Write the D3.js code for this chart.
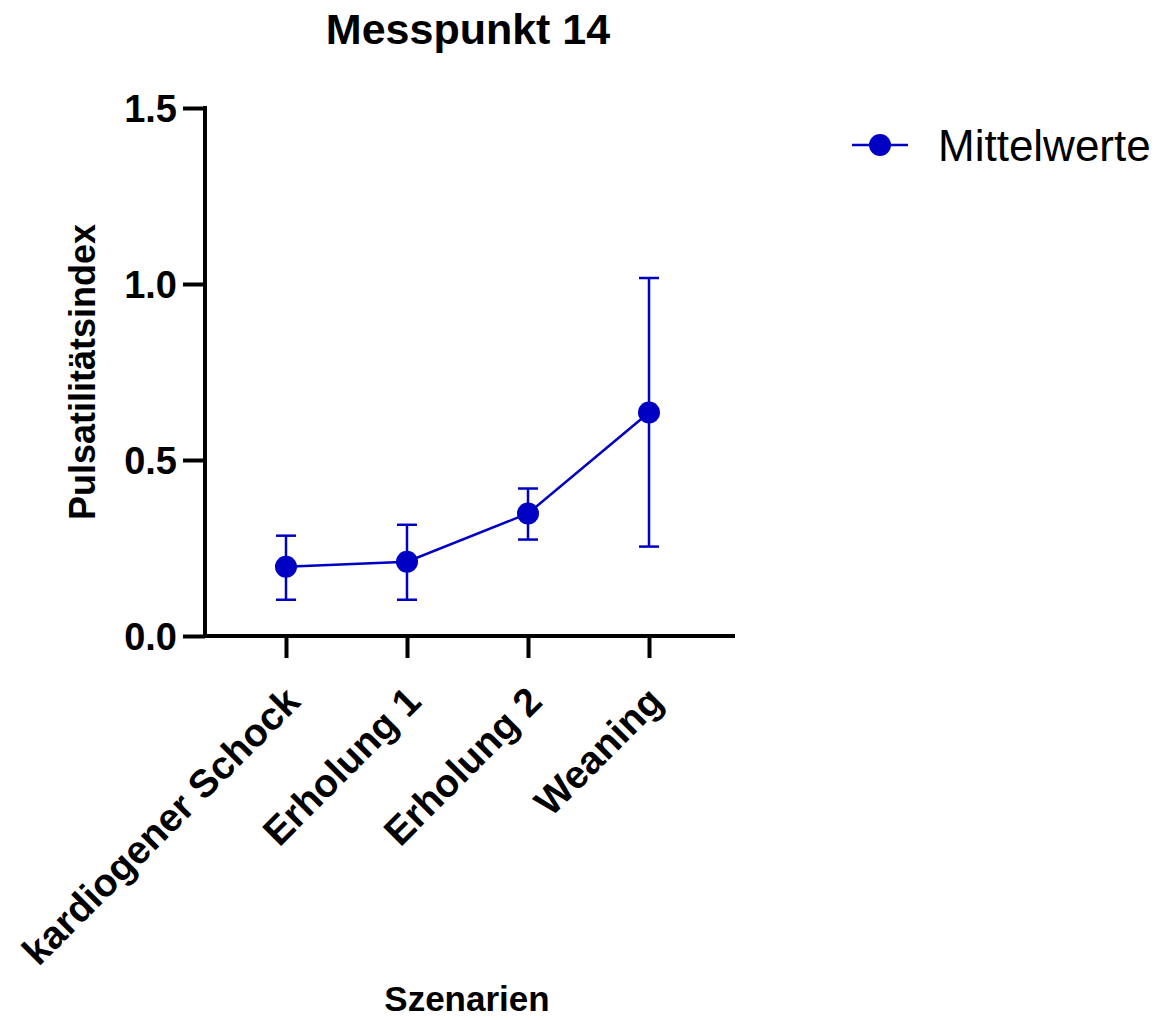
<!DOCTYPE html>
<html>
<head>
<meta charset="utf-8">
<script src="https://cdn.jsdelivr.net/npm/d3@7"></script>
<style>
	body { margin: 0; background: #fff; }
	text { font-family: "Liberation Sans", Arial, sans-serif; }
</style>
</head>
<body>
<svg id="chart" width="1160" height="1020"></svg>
<script>
// data
var categories = ["kardiogener Schock", "Erholung 1", "Erholung 2", "Weaning"];
var means = [0.197, 0.211, 0.348, 0.635];
var errLow = [0.103, 0.103, 0.274, 0.254];
var errHigh = [0.285, 0.316, 0.419, 1.017];
var yTicks = [0.0, 0.5, 1.0, 1.5];

var BLUE = "#0000c4";

var svg = d3.select("#chart");

var margin = { left: 205, top: 108, right: 735, bottom: 636 };

var x = d3.scalePoint()
	.domain(categories)
	.range([286, 649]);

var y = d3.scaleLinear()
	.domain([0, 1.5])
	.range([margin.bottom, margin.top]);

// y axis
var yAxis = svg.append("g")
	.attr("transform", "translate(" + margin.left + ",0)")
	.call(d3.axisLeft(y).tickValues(yTicks).tickFormat(d3.format(".1f")).tickSize(22).tickSizeOuter(0));
yAxis.select(".domain").attr("stroke-width", 4).attr("d", "M0," + (margin.top - 2) + "V" + (margin.bottom + 2));
yAxis.selectAll(".tick line").attr("stroke-width", 4);
yAxis.selectAll(".tick text")
	.attr("x", -28)
	.attr("dy", "0.36em")
	.attr("font-size", 38)
	.attr("font-weight", "bold")
	.attr("fill", "#000");

// x axis
var xAxis = svg.append("g")
	.attr("transform", "translate(0," + margin.bottom + ")")
	.call(d3.axisBottom(x).tickSize(22).tickSizeOuter(0).tickFormat(""));
xAxis.select(".domain").attr("stroke-width", 4).attr("d", "M" + (margin.left - 2) + ",0H" + margin.right);
xAxis.selectAll(".tick line").attr("stroke-width", 4);

xAxis.selectAll(".tick").append("text")
	.attr("transform", "translate(6,58) rotate(-45)")
	.attr("text-anchor", "end")
	.attr("dy", "0.35em")
	.attr("font-size", 39)
	.attr("font-weight", "bold")
	.attr("fill", "#000")
	.text(function(d) { return d; });

// error bars
var capW = 10;
var bars = svg.append("g")
	.attr("stroke", BLUE)
	.attr("stroke-width", 2.5)
	.attr("fill", "none");

categories.forEach(function(c, i) {
	var cx = x(c);
	bars.append("line")
		.attr("x1", cx).attr("x2", cx)
		.attr("y1", y(errLow[i])).attr("y2", y(errHigh[i]));
	bars.append("line")
		.attr("x1", cx - capW).attr("x2", cx + capW)
		.attr("y1", y(errLow[i])).attr("y2", y(errLow[i]));
	bars.append("line")
		.attr("x1", cx - capW).attr("x2", cx + capW)
		.attr("y1", y(errHigh[i])).attr("y2", y(errHigh[i]));
});

// mean line
var line = d3.line()
	.x(function(d, i) { return x(categories[i]); })
	.y(function(d) { return y(d); });

svg.append("path")
	.datum(means)
	.attr("d", line)
	.attr("fill", "none")
	.attr("stroke", BLUE)
	.attr("stroke-width", 2.5);

svg.append("g").selectAll("circle")
	.data(means)
	.enter().append("circle")
		.attr("cx", function(d, i) { return x(categories[i]); })
		.attr("cy", function(d) { return y(d); })
		.attr("r", 11)
		.attr("fill", BLUE);

// titles
svg.append("text")
	.attr("x", 468).attr("y", 44)
	.attr("text-anchor", "middle")
	.attr("font-size", 43)
	.attr("font-weight", "bold")
	.text("Messpunkt 14");

svg.append("text")
	.attr("transform", "translate(95,372) rotate(-90)")
	.attr("text-anchor", "middle")
	.attr("font-size", 36)
	.attr("font-weight", "bold")
	.text("Pulsatilitätsindex");

svg.append("text")
	.attr("x", 467).attr("y", 1011)
	.attr("text-anchor", "middle")
	.attr("font-size", 35)
	.attr("font-weight", "bold")
	.text("Szenarien");

// legend
var legend = svg.append("g").attr("transform", "translate(852,145)");
legend.append("line")
	.attr("x1", 0).attr("x2", 56)
	.attr("stroke", BLUE).attr("stroke-width", 2.5);
legend.append("circle")
	.attr("cx", 28).attr("r", 11)
	.attr("fill", BLUE);
legend.append("text")
	.attr("x", 86).attr("y", 16)
	.attr("font-size", 44)
	.text("Mittelwerte");
</script>
</body>
</html>
